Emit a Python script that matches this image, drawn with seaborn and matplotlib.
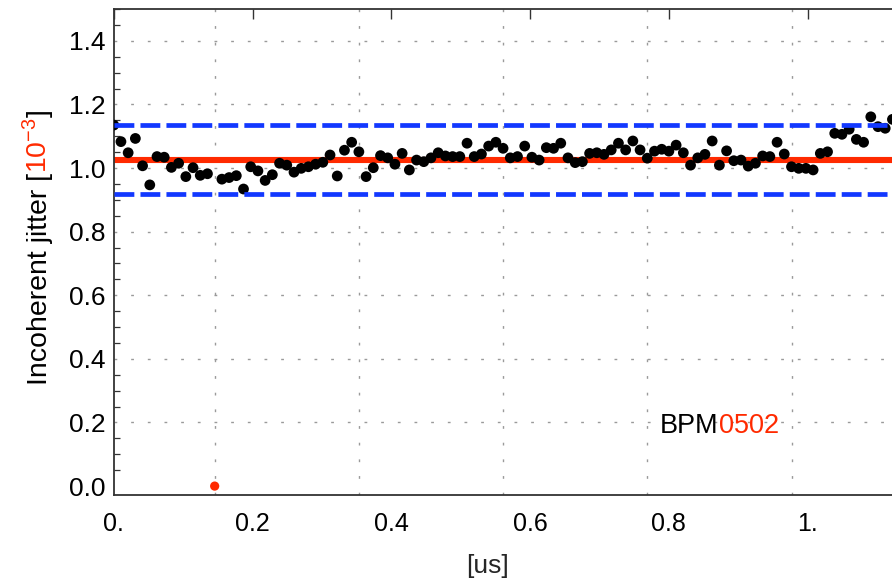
import numpy as np
import pandas as pd
import seaborn as sns
import matplotlib.pyplot as plt
from matplotlib.ticker import FixedLocator, MultipleLocator

# --- data -------------------------------------------------------------
sample_step_us = 0.01039          # spacing between consecutive samples
jitter = [
    1.135, 1.083, 1.048, 1.093, 1.007, 0.947, 1.036, 1.034, 1.002, 1.015,
    0.973, 1.001, 0.977, 0.982, 0.000, 0.965, 0.970, 0.976, 0.934, 1.004,
    0.991, 0.961, 0.979, 1.015, 1.009, 0.987, 0.999, 1.004, 1.012, 1.018,
    1.041, 0.975, 1.056, 1.081, 1.051, 0.973, 1.001, 1.039, 1.032, 1.012,
    1.046, 0.994, 1.025, 1.020, 1.032, 1.048, 1.038, 1.036, 1.036, 1.078,
    1.036, 1.044, 1.069, 1.081, 1.062, 1.032, 1.036, 1.069, 1.034, 1.025,
    1.064, 1.062, 1.078, 1.032, 1.017, 1.020, 1.046, 1.048, 1.043, 1.057,
    1.078, 1.057, 1.085, 1.057, 1.031, 1.053, 1.059, 1.053, 1.072, 1.048,
    1.009, 1.032, 1.043, 1.085, 1.009, 1.054, 1.023, 1.025, 1.006, 1.015,
    1.038, 1.036, 1.081, 1.044, 1.004, 0.999, 0.999, 0.994, 1.046, 1.051,
    1.109, 1.106, 1.122, 1.090, 1.081, 1.161, 1.130, 1.125, 1.153,
]
mean_level = 1.026
band_upper = 1.134
band_lower = 0.918
bunch_marks_us = [0.1455, 0.3533, 0.5611, 0.7689, 0.9767]
x_ticks = [0.0, 0.2, 0.4, 0.6, 0.8, 1.0]
x_tick_labels = ["0.", "0.2", "0.4", "0.6", "0.8", "1."]
y_ticks = [0.0, 0.2, 0.4, 0.6, 0.8, 1.0, 1.2, 1.4]
y_tick_labels = ["0.0", "0.2", "0.4", "0.6", "0.8", "1.0", "1.2", "1.4"]
bpm_prefix, bpm_number = "BPM", "0502"

df = pd.DataFrame({
    "t": sample_step_us * np.arange(len(jitter)),
    "jitter": jitter,
})
df["dropout"] = df["jitter"] <= 0.0

# --- style ------------------------------------------------------------
sns.set_theme(style="white")
plt.rcParams["font.family"] = ["Liberation Sans", "DejaVu Sans"]
plt.rcParams["mathtext.fontset"] = "custom"
plt.rcParams["mathtext.rm"] = "Liberation Sans"
plt.rcParams["mathtext.it"] = "Liberation Sans:italic"
narrow = ["Liberation Sans Narrow", "Liberation Sans", "DejaVu Sans"]

RED = "#ff2a00"
BLUE = "#1238ff"
GRID = "#9a9a9a"

fig = plt.figure(figsize=(8.92, 5.84), dpi=100)
ax = fig.add_axes([0.1275, 0.1524, 0.8725, 0.8322])

# reference grid: dotted lines at bunch marks and at the y major ticks
for xv in bunch_marks_us:
    ax.axvline(xv, color=GRID, lw=1.0, ls=(0, (2, 10)), zorder=1)
for yv in y_ticks[1:]:
    ax.axhline(yv, color=GRID, lw=1.0, ls=(0, (2, 10)), zorder=1)

ax.axhline(mean_level, color=RED, lw=4.4, zorder=2)

sns.scatterplot(data=df[~df["dropout"]], x="t", y="jitter", ax=ax,
                color="black", s=60, edgecolor="none", zorder=3,
                legend=False)
sns.scatterplot(data=df[df["dropout"]], x="t", y="jitter", ax=ax,
                color=RED, s=44, edgecolor="none", zorder=3,
                legend=False)

for yv in (band_upper, band_lower):
    ax.axhline(yv, color=BLUE, lw=3.4, ls=(0, (4.2, 1.3)), zorder=4)

ax.set_xlim(0.0, 1.1215)
ax.set_ylim(-0.028, 1.5)

ax.xaxis.set_major_locator(FixedLocator(x_ticks))
ax.set_xticklabels(x_tick_labels, family=narrow, fontsize=18)
ax.yaxis.set_major_locator(FixedLocator(y_ticks))
ax.set_yticklabels(y_tick_labels, fontsize=19)
ax.yaxis.set_minor_locator(MultipleLocator(0.05))

ax.tick_params(axis="both", which="major", direction="in", length=7,
               width=1.0, color="#333333", top=True, right=False,
               labelcolor="black")
ax.tick_params(axis="y", which="major", pad=6)
ax.tick_params(axis="y", which="minor", direction="in", length=4,
               width=0.9, color="#333333", left=True)
ax.tick_params(axis="x", which="major", pad=12)

for side in ("left", "bottom", "top"):
    ax.spines[side].set_color("#333333")
    ax.spines[side].set_linewidth(1.3)
ax.spines["right"].set_visible(False)

ax.set_xlabel("")
ax.set_ylabel("")
fig.text(0.546, 0.018, "[us]", family=narrow, fontsize=19,
         ha="center", va="baseline")

# two-colour labels assembled piece by piece
fig.canvas.draw()
renderer = fig.canvas.get_renderer()


def chain(pieces, x, y, rotation, **kw):
    cur_x, cur_y = x, y
    for txt, col in pieces:
        t = fig.text(cur_x, cur_y, txt, color=col, rotation=rotation,
                     rotation_mode="anchor", ha="left", va="baseline",
                     transform=None, **kw)
        bb = t.get_window_extent(renderer)
        if rotation == 90:
            cur_y = bb.y1
        else:
            cur_x = bb.x1


chain([("Incoherent jitter [", "black"), ("10$^{-3}$", RED), ("]", "black")],
      47, 199, 90, fontsize=20.5)
chain([(bpm_prefix, "black"), (bpm_number, RED)],
      660, 584 - 433, 0, fontsize=19.5)

fig.savefig("out.png", dpi=100)
